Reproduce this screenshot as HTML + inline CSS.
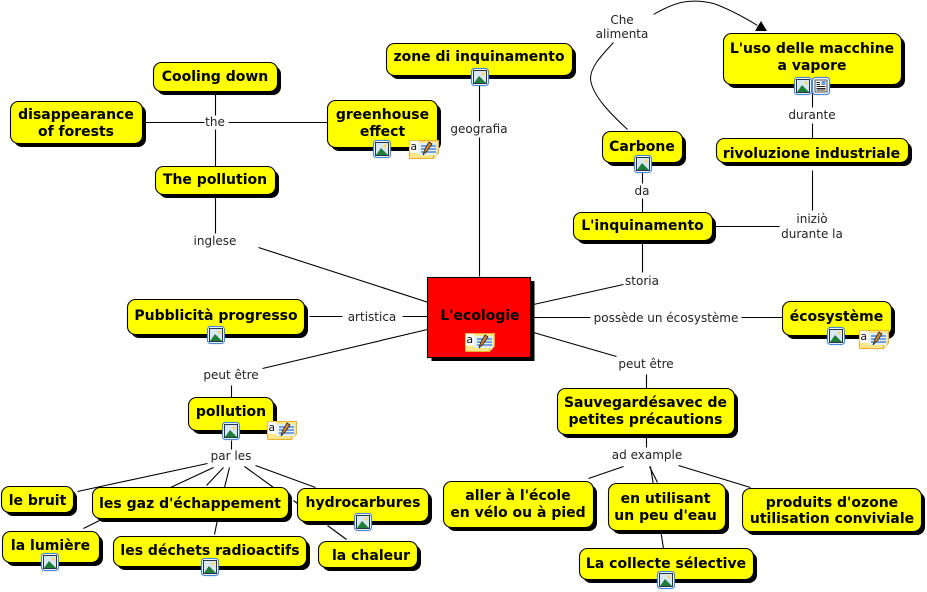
<!DOCTYPE html>
<html><head><meta charset="utf-8"><style>
html,body{margin:0;padding:0;background:#fff}
svg{display:block}
.n{font:bold 14px "DejaVu Sans","Liberation Sans",sans-serif;text-anchor:middle;fill:#000}
.l{font:12px "DejaVu Sans","Liberation Sans",sans-serif;text-anchor:middle;fill:#222}
.c{stroke:#000;stroke-width:1.1;fill:none}
</style></head><body>
<svg width="927" height="592" viewBox="0 0 927 592" xmlns="http://www.w3.org/2000/svg">
<defs>
<g id="img"><rect x="0.5" y="0.5" width="17" height="17" rx="3" fill="#fff" stroke="#4a88d8" stroke-width="1.200"/><rect x="2.500" y="2.500" width="13" height="13" fill="#d8e8f8" stroke="#123" stroke-width="0.900"/><path d="M3 15 L8 8 L11 11 L15 15Z" fill="#1f7f3a"/><circle cx="12" cy="6" r="1.700" fill="#f5d76e"/></g>
<g id="doc"><rect x="0.5" y="0.5" width="17" height="17" rx="3" fill="#fff" stroke="#4a88d8" stroke-width="1.200"/><rect x="3" y="3" width="12" height="12" fill="#fff" stroke="#222" stroke-width="0.800"/><path d="M4.500 5.500H8M4.500 7.500H8M4.500 9.500H13.500M4.500 11.500H13.500M4.500 13H13.500" stroke="#222" stroke-width="0.900"/><rect x="9.500" y="4" width="4" height="4" fill="#6a9ad0"/></g>
<g id="note"><path d="M0.500 1.500Q0.500 0.500 1.500 0.500H29.500V13L24.500 18.500H1.500Q0.500 18.500 0.500 17.500Z" fill="#fde58a" stroke="#e6b030"/><path d="M24.500 18.500V13H29.500" fill="#fff3b8" stroke="#e6b030"/><rect x="9.500" y="3" width="18" height="12" fill="#dff0fb"/><path d="M12 6H27M12 9H27M12 12H27" stroke="#3a70c0" stroke-width="1.200"/><path d="M14 15L16 9L20 2L23 4L18 11Z" fill="#d8862a" stroke="#222" stroke-width="0.800"/><rect x="0.800" y="0.800" width="8.500" height="12" fill="#fff"/><text x="4.800" y="10" font-family="DejaVu Sans" font-size="11" text-anchor="middle" fill="#111">a</text></g>
</defs>

<!-- connectors -->
<g class="c" transform="translate(.5 .5)">
<path d="M215 91V115M215 129V166M145 122H204M228 122H328"/>
<path d="M215 193V233M258 247L428 302"/>
<path d="M479 83V121M479 137V276"/>
<path d="M309 316H342M402 316H428"/>
<path d="M427 329L262 368M231 385V398"/>
<path d="M231 440V449"/>
<path d="M207 463L77 491M213 467L170 487M223 467L206 485M229 467L224 487M244 466L273 487M255 465L315 487M293 500L297 503M327 525L346 539M217 519L214 534M99 520L83 528"/>
<path d="M642 198V212M642 170V183"/>
<path d="M642 240V272M623 284L533 304"/>
<path d="M715 226H779M812 170V210"/>
<path d="M812 92V107M812 123V138"/>
<path d="M533 317H590M741 317H782"/>
<path d="M533 332L616 356M646 374V388"/>
<path d="M646 434V447M623 466L588 478M649 466L657 482M650 466L663 548M678 465L750 487"/>
<path d="M613 42C602 54 590 66 590 78C591 95 612 115 627 129" stroke-width="1"/>
<path d="M653 14C665 7 676 2 687 1C697 0 705 1 713 3C727 8 744 17 757 25" stroke-width="1"/>
</g>
<path d="M767 31H755L761 21Z" fill="#000"/>

<!-- shadows -->
<g fill="#000">
<rect x="157" y="66" width="124" height="29" rx="8"/>
<rect x="14" y="105" width="132" height="42" rx="8"/>
<rect x="331" y="104" width="110" height="47" rx="8"/>
<rect x="159" y="170" width="120" height="28" rx="8"/>
<rect x="390" y="47" width="186" height="32" rx="8"/>
<rect x="727" y="37" width="178" height="51" rx="8"/>
<rect x="606" y="135" width="80" height="31" rx="8"/>
<rect x="720" y="142" width="192" height="24" rx="8"/>
<rect x="577" y="216" width="139" height="28" rx="8"/>
<rect x="431.500" y="281" width="103" height="80"/>
<rect x="131" y="303" width="177" height="35" rx="8"/>
<rect x="786" y="305" width="109" height="34" rx="8"/>
<rect x="561" y="392" width="177" height="46" rx="8"/>
<rect x="192" y="401" width="85" height="33" rx="8"/>
<rect x="5" y="490" width="72" height="26" rx="8"/>
<rect x="96" y="491" width="196" height="31" rx="8"/>
<rect x="301" y="492" width="131" height="33" rx="8"/>
<rect x="6" y="535" width="97" height="31" rx="8"/>
<rect x="117" y="540" width="193" height="30" rx="8"/>
<rect x="322" y="545" width="99" height="26" rx="8"/>
<rect x="447" y="485" width="150" height="46" rx="8"/>
<rect x="612" y="487" width="117" height="47" rx="8"/>
<rect x="746" y="492" width="179" height="43" rx="8"/>
<rect x="583" y="552" width="174" height="31" rx="8"/>
</g>
<!-- boxes -->
<g fill="#ff0" stroke="#000" stroke-width="1.100">
<rect x="153.500" y="62.500" width="124" height="29" rx="8"/>
<rect x="10.500" y="101.500" width="132" height="42" rx="8"/>
<rect x="327.500" y="100.500" width="110" height="47" rx="8"/>
<rect x="155.500" y="166.500" width="120" height="28" rx="8"/>
<rect x="386.500" y="43.500" width="186" height="32" rx="8"/>
<rect x="723.500" y="33.500" width="178" height="51" rx="8"/>
<rect x="602.500" y="131.500" width="80" height="31" rx="8"/>
<rect x="716.500" y="138.500" width="192" height="24" rx="8"/>
<rect x="573.500" y="212.500" width="139" height="28" rx="8"/>
<rect x="427.500" y="277.500" width="103" height="80" fill="#f00"/>
<rect x="127.500" y="299.500" width="177" height="35" rx="8"/>
<rect x="782.500" y="301.500" width="109" height="34" rx="8"/>
<rect x="557.500" y="388.500" width="177" height="46" rx="8"/>
<rect x="188.500" y="397.500" width="85" height="33" rx="8"/>
<rect x="1.500" y="486.500" width="72" height="26" rx="8"/>
<rect x="92.500" y="487.500" width="196" height="31" rx="8"/>
<rect x="297.500" y="488.500" width="131" height="33" rx="8"/>
<rect x="2.500" y="531.500" width="97" height="31" rx="8"/>
<rect x="113.500" y="536.500" width="193" height="30" rx="8"/>
<rect x="318.500" y="541.500" width="99" height="26" rx="8"/>
<rect x="443.500" y="481.500" width="150" height="46" rx="8"/>
<rect x="608.500" y="483.500" width="117" height="47" rx="8"/>
<rect x="742.500" y="488.500" width="179" height="43" rx="8"/>
<rect x="579.500" y="548.500" width="174" height="31" rx="8"/>
</g>

<!-- node text -->
<g class="n">
<text x="215" y="81">Cooling down</text>
<text x="76" y="119">disappearance</text><text x="76" y="136">of forests</text>
<text x="382.500" y="119">greenhouse</text><text x="382.500" y="136">effect</text>
<text x="215" y="184">The pollution</text>
<text x="479" y="61">zone di inquinamento</text>
<text x="812" y="53">L'uso delle macchine</text><text x="812" y="70">a vapore</text>
<text x="642" y="151">Carbone</text>
<text x="811.500" y="158">rivoluzione industriale</text>
<text x="642.500" y="230">L'inquinamento</text>
<text x="480" y="320">L'ecologie</text>
<text x="216" y="320">Pubblicità progresso</text>
<text x="836.500" y="321">écosystème</text>
<text x="645.500" y="407">Sauvegardésavec de</text><text x="645.500" y="424">petites précautions</text>
<text x="231" y="416">pollution</text>
<text x="37.500" y="505">le bruit</text>
<text x="190" y="508">les gaz d'échappement</text>
<text x="363" y="507">hydrocarbures</text>
<text x="50.500" y="550">la lumière</text>
<text x="210" y="555">les déchets radioactifs</text>
<text x="371" y="560">la chaleur</text>
<text x="518" y="500">aller à l'école</text><text x="518" y="517">en vélo ou à pied</text>
<text x="665.500" y="503">en utilisant</text><text x="665.500" y="520">un peu d'eau</text>
<text x="832" y="507">produits d'ozone</text><text x="832" y="523">utilisation conviviale</text>
<text x="666" y="568">La collecte sélective</text>
</g>

<!-- linking phrases -->
<g class="l">
<text x="215" y="126">the</text>
<text x="215" y="245">inglese</text>
<text x="479" y="133">geografia</text>
<text x="622" y="24">Che</text><text x="622" y="38">alimenta</text>
<text x="812" y="119">durante</text>
<text x="642" y="195">da</text>
<text x="812" y="223">iniziò</text><text x="812" y="238">durante la</text>
<text x="642" y="285">storia</text>
<text x="372" y="321">artistica</text>
<text x="666" y="322">possède un écosystème</text>
<text x="231" y="379">peut être</text>
<text x="646" y="368">peut être</text>
<text x="231" y="460">par les</text>
<text x="647" y="459">ad example</text>
</g>

<!-- icons -->
<use href="#img" x="471" y="68"/>
<use href="#img" x="373" y="140"/>
<use href="#note" x="409" y="140"/>
<use href="#img" x="794" y="77"/>
<use href="#doc" x="812" y="77"/>
<use href="#img" x="634" y="155"/>
<use href="#note" x="465" y="333"/>
<use href="#img" x="207" y="326"/>
<use href="#img" x="827" y="327"/>
<use href="#note" x="859" y="330"/>
<use href="#img" x="222" y="422"/>
<use href="#note" x="267" y="421"/>
<use href="#img" x="354" y="513"/>
<use href="#img" x="41" y="553"/>
<use href="#img" x="201" y="558"/>
<use href="#img" x="657" y="571"/>
</svg>
</body></html>
